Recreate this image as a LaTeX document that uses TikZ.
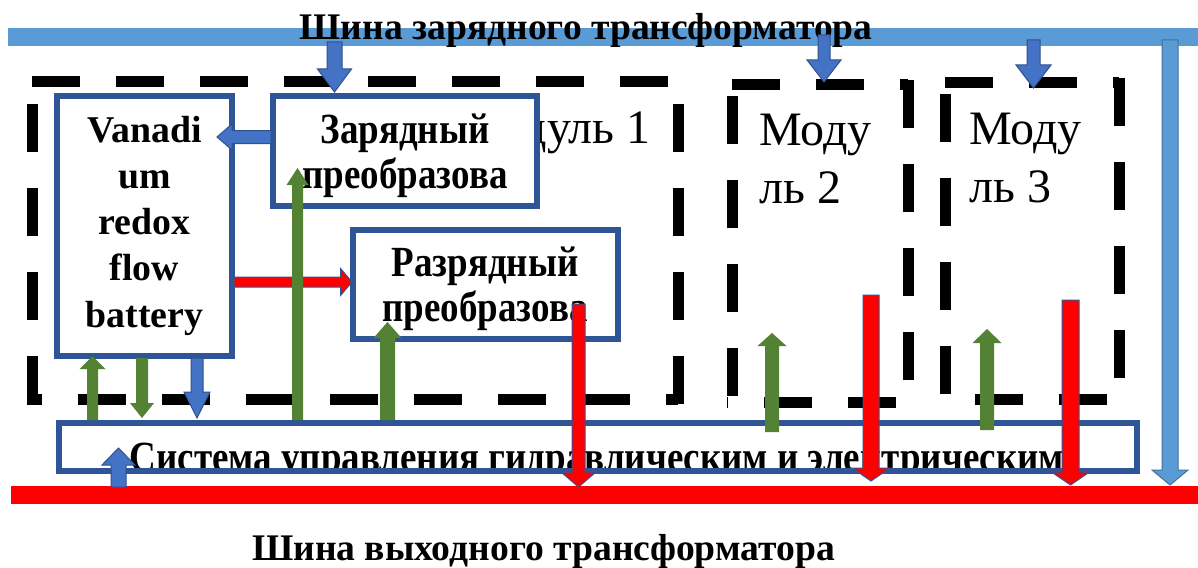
\documentclass[tikz,border=0pt]{standalone}
\usepackage{fontspec}
\usepackage{graphicx}
\setmainfont{Liberation Serif}
\usetikzlibrary{calc}
\definecolor{busblue}{HTML}{5B9BD5}
\definecolor{busedge}{HTML}{41719C}
\definecolor{arrblue}{HTML}{4472C4}
\definecolor{arredge}{HTML}{2F528F}
\definecolor{boxblue}{HTML}{2F5597}
\definecolor{agreen}{HTML}{548235}
\newcommand\cz[1]{\scalebox{0.86}[1]{#1}}
\newcommand\tightlines{\lineskiplimit=-100pt\relax}
\newcommand\blockarrow[6][]{%
  \coordinate (bah) at ($(#3)!#6!(#2)$);
  \filldraw[#1] ($(#2)!#4!90:(#3)$) -- ($(bah)!#4!90:(#3)$) -- ($(bah)!#5!90:(#3)$) -- (#3)
    -- ($(bah)!#5!-90:(#3)$) -- ($(bah)!#4!-90:(#3)$) -- ($(#2)!#4!-90:(#3)$) -- cycle;}
\begin{document}
\begin{tikzpicture}[x=1pt,y=-1pt,
  busline/.style={line width=18pt, draw=#1},
  dsh/.style={line width=11pt, dash pattern=on 48pt off 36pt},
  box/.style={draw=boxblue, line width=6pt, fill=white, inner sep=0pt, outer sep=0pt},
  titletext/.style={font=\bfseries\fontsize{37.6}{45}\selectfont, inner sep=0pt},
  modtext/.style={font=\fontsize{48}{58}\selectfont\tightlines, inner sep=0pt},
  btext/.style={font=\bfseries\fontsize{37.8}{46.25}\selectfont\tightlines, inner sep=0pt},
  ctext/.style={font=\bfseries\fontsize{43}{45}\selectfont\tightlines, inner sep=0pt},
  barblue/.style={fill=arrblue, draw=arredge, line width=1pt},
  bargreen/.style={fill=agreen, draw=none},
  barred/.style={fill=red, draw=boxblue, line width=1pt},
  barbus/.style={fill=busblue, draw=busedge, line width=1pt}]
\useasboundingbox (0,0) rectangle (1198,567);
\fill[white] (0,0) rectangle (1198,567);

% module labels
\node[modtext, anchor=base east] (m1lab) at (651,143) {Модуль 1};
\node[modtext, anchor=base west, align=left] (m2lab) at (759,203) {Моду\\ль 2};
\node[modtext, anchor=base west, align=left] (m3lab) at (969,202) {Моду\\ль 3};

% module boundaries
\draw[dsh] (32,82) -- (678,82);
\draw[dsh] (32,404) -- (32,82);
\draw[dsh] (678,404) -- (678,82);
\draw[dsh, dash phase=33pt] (27,399) -- (678,399);

\draw[dsh] (732,85) -- (908,85);
\draw[dsh] (908,80) -- (908,407);
\draw[dsh, dash phase=73pt] (732,407) -- (732,85);
\draw[dsh, dash phase=67pt] (913,402) -- (727,402);

\draw[dsh] (945,83) -- (1119,83);
\draw[dsh] (1119,78) -- (1119,404);
\draw[dsh, dash phase=74pt] (945,404) -- (945,83);
\draw[dsh, dash phase=67pt] (1124,399) -- (940,399);

% buses
\coordinate (tbl) at (8,37); \coordinate (tbr) at (1198,37);
\coordinate (bbl) at (11,495); \coordinate (bbr) at (1198,495);
\draw[busline=busblue] (tbl) -- (tbr);
\draw[busline=red] (bbl) -- (bbr);
\node[titletext, anchor=base] (ttop) at (586,40) {Шина зарядного трансформатора};
\node[titletext, anchor=base] (tbot) at (543.5,560) {Шина выходного трансформатора};

% boxes
\node[box, minimum width=174.5pt, minimum height=259.5pt] (vrb) at (144.25,225.75) {};
\node[btext, align=center, anchor=base] (vrbt) at (144.5,327) {Vanadi\\um\\redox\\flow\\battery};
\node[box, minimum width=264pt, minimum height=110pt] (zar) at (405,151) {};
\node[ctext, align=center, anchor=base] (zart) at (405,188.3) {\cz{Зарядный}\\\cz{преобразова}};
\node[box, minimum width=265pt, minimum height=109pt] (raz) at (485.5,284.5) {};
\node[ctext, align=center, anchor=base] (razt) at (485,321) {\cz{Разрядный}\\\cz{преобразова}};
\node[box, minimum width=1078.3pt, minimum height=48pt] (sys) at (597.85,446.5) {};
\begin{scope}
  \clip (61.7,425.5) rectangle (1134,467.5);
  \node[ctext, anchor=base] (syst) at (597,471.5) {\cz{Система управления гидравлическим и электрическим}};
\end{scope}

% arrow end points
\coordinate (a1s) at (334.5,42);  \coordinate (a1e) at (334.5,92);
\coordinate (a2s) at (824,35);    \coordinate (a2e) at (824,82);
\coordinate (a3s) at (1033.5,40); \coordinate (a3e) at (1033.5,88);
\coordinate (zls) at (271,137);   \coordinate (zle) at (217,137);
\coordinate (rvs) at (234,282);   \coordinate (rve) at (352,282);
\coordinate (gzs) at (297.5,420); \coordinate (gze) at (297.5,168);
\coordinate (grs) at (387.5,420); \coordinate (gre) at (387.5,322);
\coordinate (g1s) at (92.5,420);  \coordinate (g1e) at (92.5,356);
\coordinate (g2s) at (142,358);   \coordinate (g2e) at (142,418);
\coordinate (b1s) at (197,358);   \coordinate (b1e) at (197,418);
\coordinate (g3s) at (772,432);   \coordinate (g3e) at (772,333);
\coordinate (g4s) at (987,430);   \coordinate (g4e) at (987,329);
\coordinate (r1s) at (578.5,304); \coordinate (r1e) at (578.5,487);
\coordinate (r2s) at (871,295);   \coordinate (r2e) at (871,481);
\coordinate (r3s) at (1070.5,300); \coordinate (r3e) at (1070.5,485);
\coordinate (vbs) at (1170,40);   \coordinate (vbe) at (1170,485);
\coordinate (bups) at (118.5,487); \coordinate (bupe) at (118.5,448);

% arrows
\blockarrow[barblue]{a1s}{a1e}{7.5pt}{17pt}{23pt}
\blockarrow[barblue]{a2s}{a2e}{6pt}{17pt}{22pt}
\blockarrow[barblue]{a3s}{a3e}{6.5pt}{17.5pt}{23pt}
\blockarrow[barblue]{zls}{zle}{6.5pt}{13pt}{15pt}
\blockarrow[barred]{rvs}{rve}{5pt}{13.5pt}{11.5pt}
\blockarrow[bargreen]{gzs}{gze}{5.5pt}{11pt}{17pt}
\blockarrow[bargreen]{grs}{gre}{7.5pt}{14pt}{16pt}
\blockarrow[bargreen]{g1s}{g1e}{5.5pt}{13pt}{13pt}
\blockarrow[bargreen]{g2s}{g2e}{6pt}{12pt}{15pt}
\blockarrow[barblue]{b1s}{b1e}{6pt}{13pt}{26pt}
\blockarrow[bargreen]{g3s}{g3e}{7pt}{14.5pt}{13pt}
\blockarrow[bargreen]{g4s}{g4e}{7pt}{14.5pt}{14pt}
\blockarrow[barred]{r1s}{r1e}{6.5pt}{17.5pt}{15pt}
\blockarrow[barred]{r2s}{r2e}{8pt}{19pt}{13pt}
\blockarrow[barred]{r3s}{r3e}{8.5pt}{19pt}{13pt}
\blockarrow[barbus]{vbs}{vbe}{8pt}{18pt}{15pt}
\blockarrow[barblue]{bups}{bupe}{7.5pt}{16.5pt}{17pt}
\end{tikzpicture}
\end{document}
